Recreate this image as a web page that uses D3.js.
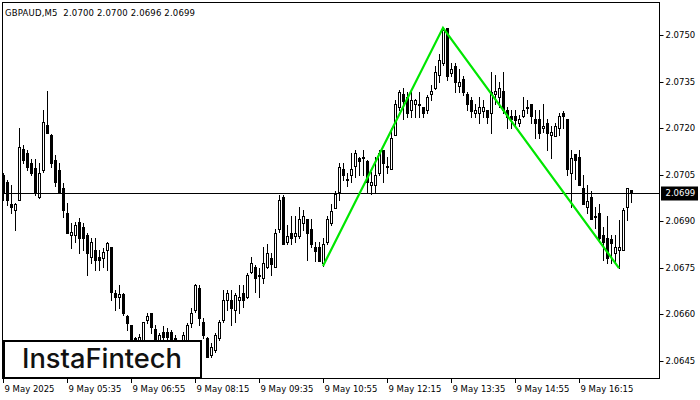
<!DOCTYPE html>
<html><head><meta charset="utf-8">
<script src="https://cdn.jsdelivr.net/npm/d3@7"></script>
<style>html,body{margin:0;padding:0;background:#fff;} svg{display:block;}</style>
</head><body>
<svg id="c" width="700" height="400"></svg>
<script>
const headerText = "GBPAUD,M5  2.0700 2.0700 2.0696 2.0699";
const opens = [2.07048,2.07026,2.06955,2.06935,2.06968,2.07132,2.07119,2.07087,2.07071,2.06977,
2.07064,2.07210,2.07177,2.07097,2.07064,2.07006,2.06926,2.06855,2.06855,2.06897,
2.06881,2.06855,2.06784,2.06806,2.06784,2.06781,2.06806,2.06816,2.06668,2.06655,
2.06664,2.06594,2.06565,2.06523,2.06516,2.06500,2.06581,2.06603,2.06552,2.06516,
2.06542,2.06542,2.06542,2.06523,2.06500,2.06484,2.06494,2.06571,2.06613,2.06684,
2.06574,2.06523,2.06468,2.06484,2.06523,2.06581,2.06645,2.06645,2.06613,2.06645,
2.06668,2.06655,2.06735,2.06752,2.06726,2.06716,2.06752,2.06781,2.06752,2.06874,
2.06977,2.06832,2.06861,2.06852,2.06852,2.06894,2.06906,2.06874,2.06816,2.06816,
2.06765,2.06832,2.06894,2.06942,2.06994,2.07068,2.07035,2.07048,2.07077,2.07103,
2.07106,2.07094,2.07016,2.07016,2.07055,2.07129,2.07077,2.07068,2.07177,2.07268,
2.07310,2.07300,2.07258,2.07277,2.07277,2.07268,2.07258,2.07310,2.07329,2.07371,
2.07410,2.07523,2.07377,2.07400,2.07335,2.07358,2.07310,2.07290,2.07248,2.07248,
2.07255,2.07258,2.07248,2.07310,2.07300,2.07319,2.07258,2.07239,2.07239,2.07216,
2.07239,2.07268,2.07277,2.07229,2.07229,2.07200,2.07216,2.07177,2.07174,2.07200,
2.07248,2.07229,2.07055,2.07116,2.07106,2.07006,2.06945,2.06977,2.06916,2.06926,
2.06855,2.06845,2.06842,2.06797,2.06806,2.06806,2.06945,2.0700];
const highs = [2.07055,2.07032,2.07016,2.06958,2.07200,2.07145,2.07129,2.07100,2.07100,2.07087,
2.07258,2.07319,2.07181,2.07113,2.07087,2.07023,2.06958,2.06894,2.06897,2.06910,
2.06894,2.06861,2.06845,2.06845,2.06806,2.06813,2.06832,2.06816,2.06677,2.06694,
2.06668,2.06597,2.06565,2.06526,2.06535,2.06574,2.06603,2.06603,2.06565,2.06539,
2.06561,2.06555,2.06548,2.06532,2.06506,2.06542,2.06571,2.06619,2.06697,2.06694,
2.06587,2.06526,2.06506,2.06539,2.06581,2.06677,2.06677,2.06677,2.06668,2.06694,
2.06694,2.06732,2.06784,2.06758,2.06748,2.06816,2.06826,2.06797,2.06874,2.06984,
2.06984,2.06887,2.06916,2.06916,2.06945,2.06935,2.06906,2.06906,2.06832,2.06832,
2.06845,2.06916,2.06955,2.06997,2.07087,2.07087,2.07055,2.07119,2.07129,2.07106,
2.07129,2.07097,2.07058,2.07106,2.07129,2.07129,2.07106,2.07200,2.07290,2.07323,
2.07329,2.07316,2.07316,2.07294,2.07316,2.07268,2.07306,2.07339,2.07400,2.07439,
2.07523,2.07523,2.07410,2.07410,2.07390,2.07368,2.07316,2.07300,2.07277,2.07300,
2.07290,2.07258,2.07381,2.07371,2.07348,2.07381,2.07268,2.07258,2.07258,2.07242,
2.07300,2.07290,2.07277,2.07258,2.07258,2.07277,2.07229,2.07206,2.07216,2.07248,
2.07255,2.07229,2.07129,2.07116,2.07129,2.07048,2.07016,2.06997,2.06945,2.06955,
2.06881,2.06916,2.06855,2.06855,2.06903,2.06942,2.07006,2.0700];
const lows = [2.06968,2.06952,2.06926,2.06871,2.06968,2.07087,2.07064,2.07048,2.06984,2.06974,
2.07058,2.07184,2.07074,2.07013,2.06990,2.06913,2.06861,2.06813,2.06832,2.06797,
2.06806,2.06726,2.06765,2.06742,2.06742,2.06752,2.06742,2.06645,2.06613,2.06619,
2.06597,2.06548,2.06510,2.06500,2.06500,2.06494,2.06571,2.06539,2.06510,2.06500,
2.06510,2.06510,2.06500,2.06477,2.06465,2.06474,2.06487,2.06558,2.06606,2.06565,
2.06523,2.06461,2.06461,2.06477,2.06516,2.06574,2.06613,2.06565,2.06574,2.06603,
2.06623,2.06652,2.06732,2.06671,2.06655,2.06700,2.06748,2.06726,2.06752,2.06865,
2.06826,2.06826,2.06826,2.06832,2.06845,2.06871,2.06774,2.06816,2.06771,2.06771,
2.06755,2.06826,2.06887,2.06942,2.06968,2.07032,2.07013,2.07026,2.07042,2.07048,
2.07048,2.06994,2.06987,2.06994,2.07048,2.07026,2.07055,2.07068,2.07177,2.07258,
2.07229,2.07235,2.07235,2.07235,2.07235,2.07235,2.07248,2.07290,2.07326,2.07348,
2.07403,2.07355,2.07368,2.07316,2.07316,2.07306,2.07258,2.07235,2.07235,2.07216,
2.07235,2.07216,2.07184,2.07277,2.07268,2.07248,2.07200,2.07200,2.07210,2.07206,
2.07235,2.07248,2.07216,2.07168,2.07168,2.07187,2.07129,2.07103,2.07174,2.07177,
2.07200,2.07048,2.06945,2.07035,2.07016,2.06955,2.06926,2.06906,2.06877,2.06832,
2.06774,2.06765,2.06765,2.06765,2.06748,2.06806,2.06903,2.0696];
const closes = [2.06994,2.06968,2.06945,2.06955,2.07139,2.07097,2.07074,2.07055,2.06990,2.07055,
2.07219,2.07184,2.07087,2.07026,2.06994,2.06935,2.06861,2.06865,2.06887,2.06845,
2.06845,2.06797,2.06832,2.06774,2.06774,2.06800,2.06829,2.06671,2.06655,2.06664,
2.06603,2.06571,2.06516,2.06519,2.06526,2.06574,2.06594,2.06558,2.06516,2.06532,
2.06526,2.06526,2.06516,2.06490,2.06477,2.06532,2.06565,2.06603,2.06694,2.06587,
2.06532,2.06461,2.06494,2.06532,2.06574,2.06645,2.06668,2.06619,2.06661,2.06655,
2.06645,2.06726,2.06765,2.06716,2.06723,2.06765,2.06797,2.06761,2.06861,2.06968,
2.06826,2.06852,2.06845,2.06861,2.06906,2.06916,2.06861,2.06826,2.06803,2.06771,
2.06826,2.06906,2.06932,2.06987,2.07074,2.07048,2.07032,2.07068,2.07119,2.07094,
2.07103,2.07026,2.07026,2.07048,2.07119,2.07087,2.07074,2.07168,2.07277,2.07316,
2.07287,2.07248,2.07290,2.07290,2.07274,2.07248,2.07300,2.07319,2.07381,2.07419,
2.07516,2.07368,2.07390,2.07348,2.07348,2.07316,2.07277,2.07255,2.07258,2.07268,
2.07268,2.07235,2.07316,2.07319,2.07329,2.07258,2.07235,2.07229,2.07226,2.07229,
2.07258,2.07265,2.07239,2.07216,2.07184,2.07206,2.07184,2.07187,2.07206,2.07239,
2.07239,2.07068,2.07103,2.07097,2.07016,2.06955,2.06964,2.06906,2.06913,2.06845,
2.06832,2.06781,2.06829,2.06816,2.06816,2.06935,2.07006,2.0699];
const lastPrice = 2.0699;
const priceTicks = [2.0645, 2.0660, 2.0675, 2.0690, 2.0705, 2.0720, 2.0735, 2.0750];
const timeTickBars = [0, 16, 32, 48, 64, 80, 96, 112, 128, 144];
const timeTickLabels = ["9 May 2025","9 May 05:35","9 May 06:55","9 May 08:15","9 May 09:35",
  "9 May 10:55","9 May 12:15","9 May 13:35","9 May 14:55","9 May 16:15"];
const patternBars = [80, 110, 154];
const patternPrices = [2.06755, 2.07523, 2.06748];
const logoText = "InstaFintech";

const svg = d3.select("#c");
const plot = {left: 3, right: 660, top: 3, bottom: 379};
const x = d3.scaleLinear().domain([0, 1]).range([3, 7]);
const y = d3.scaleLinear().domain([2.0645, 2.0750]).range([360.5, 35]);
const font = "'DejaVu Sans', Tahoma, sans-serif";

svg.append("rect").attr("width", 700).attr("height", 400).attr("fill", "#fff");
svg.append("defs").append("clipPath").attr("id", "pc").append("rect")
  .attr("x", plot.left).attr("y", plot.top)
  .attr("width", plot.right - plot.left).attr("height", plot.bottom - plot.top);

const g = svg.append("g").attr("clip-path", "url(#pc)");
const bars = opens.map((o, i) => ({i, o, h: highs[i], l: lows[i], c: closes[i]}));
const px = i => Math.round(x(i)) + 0.5;

g.selectAll("line.w").data(bars).join("line").attr("class", "w")
  .attr("x1", d => px(d.i)).attr("x2", d => px(d.i))
  .attr("y1", d => Math.round(y(d.h))).attr("y2", d => Math.round(y(d.l)) + 1)
  .attr("stroke", "#000").attr("stroke-width", 1);
g.selectAll("rect.b").data(bars).join("rect").attr("class", "b")
  .attr("x", d => px(d.i) - 1)
  .attr("y", d => Math.round(y(Math.max(d.o, d.c))) + 0.5)
  .attr("width", 2)
  .attr("height", d => Math.max(0, Math.round(y(Math.min(d.o, d.c))) - Math.round(y(Math.max(d.o, d.c)))))
  .attr("fill", d => d.c >= d.o ? "#fff" : "#000")
  .attr("stroke", "#000").attr("stroke-width", 1);

g.append("line").attr("x1", plot.left).attr("x2", plot.right)
  .attr("y1", Math.round(y(lastPrice)) + 0.5).attr("y2", Math.round(y(lastPrice)) + 0.5)
  .attr("stroke", "#000").attr("stroke-width", 1);

const pts = patternBars.map((b, k) => [x(b), y(patternPrices[k])]);
g.append("path").attr("d", d3.line()(pts)).attr("fill", "none")
  .attr("stroke", "#00e600").attr("stroke-width", 2.2).attr("stroke-linejoin", "miter");

svg.append("text").attr("x", 5).attr("y", 16).attr("font-family", font).attr("font-size", 8.5)
  .attr("xml:space", "preserve").style("white-space", "pre")
  .attr("textLength", 190).attr("lengthAdjust", "spacing")
  .attr("fill", "#000").text(headerText);

svg.append("rect").attr("x", plot.left - 0.5).attr("y", plot.top - 0.5)
  .attr("width", plot.right - plot.left).attr("height", plot.bottom - plot.top)
  .attr("fill", "none").attr("stroke", "#000").attr("stroke-width", 1);

const ya = svg.append("g");
priceTicks.forEach(p => {
  const yy = Math.round(y(p)) + 0.5;
  ya.append("line").attr("x1", plot.right - 0.5).attr("x2", plot.right + 3.5)
    .attr("y1", yy).attr("y2", yy).attr("stroke", "#000");
  ya.append("text").attr("x", plot.right + 5.5).attr("y", yy).attr("dy", "0.35em")
    .attr("font-family", font).attr("font-size", 8.5).attr("fill", "#000").text(p.toFixed(4));
});
const ly = Math.round(y(lastPrice)) + 0.5;
svg.append("rect").attr("x", plot.right + 1).attr("y", ly - 7).attr("width", 37).attr("height", 14).attr("fill", "#000");
svg.append("text").attr("x", plot.right + 5.5).attr("y", ly).attr("dy", "0.35em")
  .attr("font-family", font).attr("font-size", 8.5).attr("fill", "#fff").text(lastPrice.toFixed(4));

const xa = svg.append("g");
timeTickBars.forEach((b, k) => {
  const xx = Math.round(x(b)) + 0.5;
  xa.append("line").attr("x1", xx).attr("x2", xx).attr("y1", plot.bottom - 0.5).attr("y2", plot.bottom + 4)
    .attr("stroke", "#000");
  xa.append("text").attr("x", xx + 1).attr("y", plot.bottom + 13)
    .attr("font-family", font).attr("font-size", 8.5).attr("fill", "#000").text(timeTickLabels[k]);
});

svg.append("rect").attr("x", 4).attr("y", 341).attr("width", 197).attr("height", 37)
  .attr("fill", "#fff").attr("stroke", "#000").attr("stroke-width", 2);
svg.append("text").attr("x", 102).attr("y", 368).attr("text-anchor", "middle")
  .attr("font-family", "Inter, Lato, sans-serif").attr("font-weight", 500).attr("font-size", 27)
  .attr("textLength", 160).attr("lengthAdjust", "spacingAndGlyphs")
  .attr("fill", "#111").text(logoText);
</script>
</body></html>
